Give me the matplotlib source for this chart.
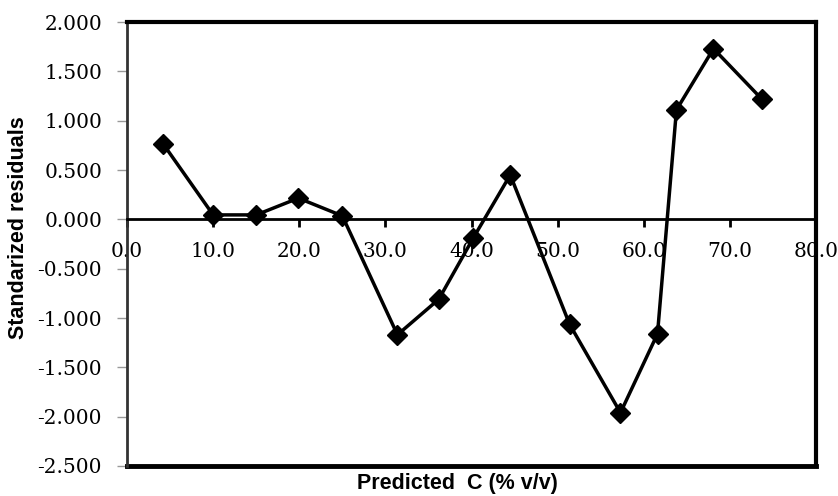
import matplotlib
matplotlib.use('Agg')
import matplotlib.pyplot as plt

predicted = [4.2, 10.0, 15.0, 19.9, 25.0, 31.4, 36.2, 40.2, 44.5,
             51.4, 57.3, 61.6, 63.8, 68.1, 73.7]
residuals = [0.764, 0.045, 0.045, 0.215, 0.035, -1.17, -0.81, -0.19, 0.45,
             -1.065, -1.96, -1.16, 1.11, 1.73, 1.22]

x_ticks = [0, 10, 20, 30, 40, 50, 60, 70, 80]
y_ticks = [-2.5, -2.0, -1.5, -1.0, -0.5, 0.0, 0.5, 1.0, 1.5, 2.0]


def main():
    fig = plt.figure(figsize=(8.38, 4.96), dpi=100)
    ax = fig.add_axes([0.1516, 0.0605, 0.8221, 0.8951])

    ax.plot(predicted, residuals, color='black', lw=2.5, marker='D',
            markersize=10, markerfacecolor='black', markeredgecolor='black',
            zorder=3)

    ax.set_xlim(0, 80)
    ax.set_ylim(-2.5, 2.0)

    # x axis sits on the zero line, box is drawn separately
    ax.spines['bottom'].set_position(('data', 0))
    ax.spines['bottom'].set_linewidth(2)
    ax.spines['top'].set_linewidth(3)
    ax.spines['right'].set_linewidth(3)
    ax.spines['left'].set_linewidth(2)
    ax.spines['left'].set_color('#333333')
    ax.plot([0, 1], [0, 0], transform=ax.transAxes, color='black', lw=3.5,
            clip_on=False, solid_capstyle='projecting')

    ax.set_xticks(x_ticks)
    ax.set_xticklabels([f'{v:.1f}' for v in x_ticks])
    ax.set_yticks(y_ticks)
    ax.set_yticklabels([f'{v:.3f}' for v in y_ticks])

    ax.tick_params(axis='x', direction='out', length=6, width=2, pad=10,
                   labelsize=14.5)
    ax.tick_params(axis='y', direction='out', length=7, width=1, pad=11,
                   color='#999999', labelsize=14.5)
    for lab in ax.get_xticklabels() + ax.get_yticklabels():
        lab.set_fontfamily('DejaVu Serif')

    ax.set_xlabel('Predicted  C (% v/v)', fontsize=15.5, fontweight='bold',
                  family='Liberation Sans', va='center')
    ax.xaxis.set_label_coords(0.48, -0.04)
    ax.set_ylabel('Standarized residuals', fontsize=15.5, fontweight='bold',
                  family='Liberation Sans', va='center')
    ax.yaxis.set_label_coords(-0.158, 0.536)

    fig.savefig('out.png', dpi=100)


if __name__ == '__main__':
    main()
